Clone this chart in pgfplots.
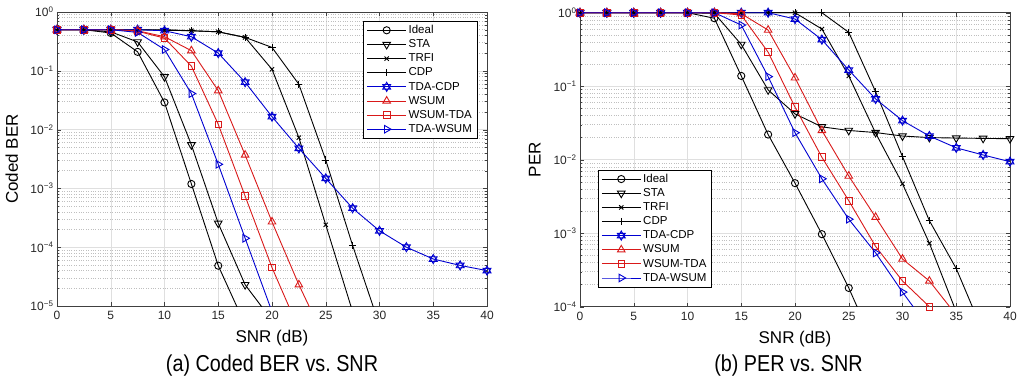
\documentclass[border=0pt]{standalone}
\usepackage{pgfplots}
\pgfplotsset{compat=1.18}
\usepackage{fontspec}
\setmainfont{Liberation Sans}
\usepackage{graphicx}
\definecolor{mblue}{rgb}{0,0,0.82}
\definecolor{mred}{rgb}{0.85,0.1,0.1}
\pgfdeclareplotmark{hexagram}{%
  \pgfpathmoveto{\pgfqpointpolar{90}{\pgfplotmarksize}}%
  \pgfpathlineto{\pgfqpointpolar{210}{\pgfplotmarksize}}%
  \pgfpathlineto{\pgfqpointpolar{330}{\pgfplotmarksize}}%
  \pgfpathclose
  \pgfpathmoveto{\pgfqpointpolar{270}{\pgfplotmarksize}}%
  \pgfpathlineto{\pgfqpointpolar{30}{\pgfplotmarksize}}%
  \pgfpathlineto{\pgfqpointpolar{150}{\pgfplotmarksize}}%
  \pgfpathclose
  \pgfusepathqstroke}
\newcommand\logtick[1]{\pgfmathtruncatemacro\ee{round(#1)}10\textsuperscript{\ifnum\ee<0 −\number-\ee\else\ee\fi}}
\pgfplotsset{myax/.style={
  scale only axis, width=430pt, height=294pt,
  xmin=0, xmax=40, xtick={0,5,...,40},
  log basis y=10,
  tick align=inside, major tick length=4pt, minor tick length=2pt,
  grid=both,
  major grid style={gray!25, line width=0.5pt},
  minor grid style={gray!50, dotted, line width=0.5pt},
  axis line style={black!75, line width=0.6pt},
  tick style={black!75},
  tick label style={font=\fontsize{12}{13}\selectfont, text=black!85},
  xticklabel style={yshift=-2pt},
  /pgf/number format/assume math mode=true,
  yticklabel={\logtick{\tick}},
  label style={font=\fontsize{17}{19}\selectfont},
  xlabel style={at={(axis description cs:0.5,-0.109)}, anchor=center},
  ylabel style={at={(axis description cs:-0.105,0.5)}, anchor=center},
  legend style={font=\fontsize{11.5}{13}\selectfont, draw=black, line width=0.5pt, cells={anchor=west}, row sep=0.6pt},
  legend image code/.code={\draw[mark repeat=2,mark phase=2,##1] plot coordinates {(0pt,0pt) (19.5pt,0pt) (39pt,0pt)};},
  every axis plot/.append style={line width=0.9pt, mark options={solid}},
  xlabel={SNR (dB)},
}}
\pgfplotsset{
  sIdeal/.style={black, mark=o, mark size=3.6pt},
  sSTA/.style={black, mark=triangle, mark size=4.4pt, mark options={rotate=180}},
  sTRFI/.style={black, mark=x, mark size=3pt},
  sCDP/.style={black, mark=+, mark size=3.6pt},
  sTDACDP/.style={mblue, mark=hexagram, mark size=4.6pt},
  sWSUM/.style={mred, mark=triangle, mark size=4.4pt},
  sWSUMTDA/.style={mred, mark=square, mark size=3.3pt},
  sTDAWSUM/.style={mblue, mark=triangle, mark size=4.4pt, mark options={rotate=-90}},
}
\begin{document}
\begin{tikzpicture}
\useasboundingbox (0pt,0pt) rectangle (1020pt,-379pt);
\begin{semilogyaxis}[myax, at={(57pt,-306pt)}, anchor=south west,
  ymin=1e-5, ymax=1, ylabel={Coded BER},
  legend style={at={(axis description cs:0.977,0.969)}, anchor=north east}]
\addplot[sIdeal] coordinates {(0,0.5)(2.5,0.5)(5,0.44)(7.5,0.21)(10,0.029)(12.5,1.19e-3)(15,4.85e-5)(17.5,4.8e-6)};
\addplot[sSTA] coordinates {(0,0.5)(2.5,0.5)(5,0.46)(7.5,0.31)(10,0.079)(12.5,5.5e-3)(15,2.55e-4)(17.5,2.3e-5)(20,5.7e-6)};
\addplot[sTRFI] coordinates {(0,0.5)(2.5,0.5)(5,0.5)(7.5,0.5)(10,0.49)(12.5,0.48)(15,0.46)(17.5,0.37)(20,0.106)(22.5,7.3e-3)(25,2.4e-4)(27.5,8e-6)};
\addplot[sCDP] coordinates {(0,0.5)(2.5,0.5)(5,0.5)(7.5,0.5)(10,0.5)(12.5,0.48)(15,0.46)(17.5,0.37)(20,0.25)(22.5,0.059)(25,3.04e-3)(27.5,1.07e-4)(30,4.7e-6)};
\addplot[sTDACDP] coordinates {(0,0.5)(2.5,0.5)(5,0.5)(7.5,0.5)(10,0.48)(12.5,0.38)(15,0.2)(17.5,0.064)(20,0.0166)(22.5,4.8e-3)(25,1.48e-3)(27.5,4.6e-4)(30,1.9e-4)(32.5,1.0e-4)(35,6.3e-5)(37.5,4.9e-5)(40,4.0e-5)};
\addplot[sWSUM] coordinates {(0,0.5)(2.5,0.5)(5,0.5)(7.5,0.48)(10,0.38)(12.5,0.22)(15,0.046)(17.5,3.7e-3)(20,2.7e-4)(22.5,2.3e-5)(25,2.5e-6)};
\addplot[sWSUMTDA] coordinates {(0,0.5)(2.5,0.5)(5,0.5)(7.5,0.47)(10,0.36)(12.5,0.12)(15,0.0123)(17.5,7.4e-4)(20,4.5e-5)(22.5,4e-6)};
\addplot[sTDAWSUM] coordinates {(0,0.5)(2.5,0.5)(5,0.5)(7.5,0.45)(10,0.23)(12.5,0.041)(15,2.57e-3)(17.5,1.42e-4)(20,8e-6)};
\legend{Ideal,STA,TRFI,CDP,TDA-CDP,WSUM,WSUM-TDA,TDA-WSUM}
\end{semilogyaxis}
\begin{semilogyaxis}[myax, at={(580pt,-306.7pt)}, anchor=south west,
  ymin=1e-4, ymax=1, ylabel={PER},
  legend style={at={(axis description cs:0.042,0.067)}, anchor=south west}]
\addplot[sIdeal] coordinates {(0,1)(2.5,1)(5,1)(7.5,1)(10,1)(12.5,0.84)(15,0.138)(17.5,0.022)(20,4.8e-3)(22.5,9.7e-4)(25,1.8e-4)(27.5,2.7e-5)};
\addplot[sSTA] coordinates {(0,1)(2.5,1)(5,1)(7.5,1)(10,1)(12.5,0.98)(15,0.37)(17.5,0.089)(20,0.042)(22.5,0.028)(25,0.025)(27.5,0.0234)(30,0.021)(32.5,0.020)(35,0.0197)(37.5,0.0195)(40,0.0193)};
\addplot[sTRFI] coordinates {(0,1)(2.5,1)(5,1)(7.5,1)(10,1)(12.5,1)(15,1)(17.5,1)(20,1)(22.5,0.6)(25,0.138)(27.5,0.023)(30,4.7e-3)(32.5,7.3e-4)(35,8.5e-5)(37.5,1e-5)};
\addplot[sCDP] coordinates {(0,1)(2.5,1)(5,1)(7.5,1)(10,1)(12.5,1)(15,1)(17.5,1)(20,1)(22.5,1)(25,0.54)(27.5,0.084)(30,0.011)(32.5,1.48e-3)(35,3.3e-4)(37.5,4.5e-5)};
\addplot[sTDACDP] coordinates {(0,1)(2.5,1)(5,1)(7.5,1)(10,1)(12.5,1)(15,1)(17.5,1)(20,0.82)(22.5,0.43)(25,0.166)(27.5,0.067)(30,0.034)(32.5,0.021)(35,0.0145)(37.5,0.0116)(40,9.4e-3)};
\addplot[sWSUM] coordinates {(0,1)(2.5,1)(5,1)(7.5,1)(10,1)(12.5,1)(15,0.97)(17.5,0.58)(20,0.13)(22.5,0.025)(25,6.0e-3)(27.5,1.65e-3)(30,4.45e-4)(32.5,2.24e-4)(35,7.7e-5)};
\addplot[sWSUMTDA] coordinates {(0,1)(2.5,1)(5,1)(7.5,1)(10,1)(12.5,1)(15,0.93)(17.5,0.29)(20,0.052)(22.5,0.0108)(25,2.77e-3)(27.5,6.6e-4)(30,2.24e-4)(32.5,1.0e-4)(35,4e-5)};
\addplot[sTDAWSUM] coordinates {(0,1)(2.5,1)(5,1)(7.5,1)(10,1)(12.5,1)(15,0.68)(17.5,0.135)(20,0.0233)(22.5,5.5e-3)(25,1.55e-3)(27.5,5.4e-4)(30,1.58e-4)(32.5,5e-5)};
\legend{Ideal,STA,TRFI,CDP,TDA-CDP,WSUM,WSUM-TDA,TDA-WSUM}
\end{semilogyaxis}
\node[font=\fontsize{23}{25}\selectfont, anchor=center] at (272pt,-366pt) {\scalebox{0.86}[1]{(a) Coded BER vs.\ SNR}};
\node[font=\fontsize{23}{25}\selectfont, anchor=center] at (788.5pt,-366pt) {\scalebox{0.86}[1]{(b) PER vs.\ SNR}};
\end{tikzpicture}
\end{document}
